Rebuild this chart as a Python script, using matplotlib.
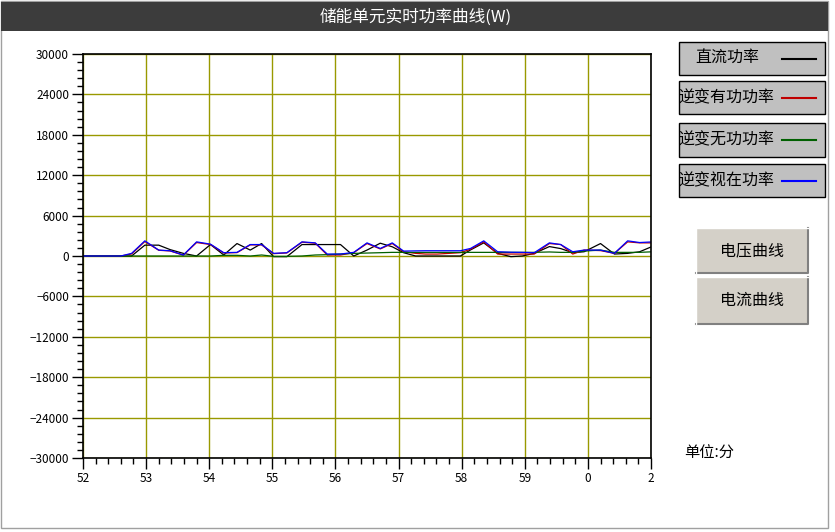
import matplotlib
matplotlib.use("Agg")
import matplotlib.pyplot as plt
from matplotlib.patches import Rectangle
from matplotlib.ticker import MultipleLocator
import numpy as np

plt.rcParams['font.family'] = ['Noto Sans CJK SC', 'DejaVu Sans']

# 时间(分), 52分开始, 60以后为下一个小时
t = [52.0, 52.6, 52.77, 52.98, 53.2, 53.38, 53.59, 53.8, 54.02, 54.23, 54.44,
     54.65, 54.83, 55.02, 55.23, 55.47, 55.68, 55.87, 56.08, 56.29, 56.5,
     56.71, 56.9, 57.08, 57.27, 57.43, 57.61, 57.8, 57.98, 58.14, 58.35,
     58.57, 58.78, 58.96, 59.15, 59.39, 59.57, 59.76, 59.94, 60.2, 60.42,
     60.63, 60.82, 61.03]

dc_power = [0, 0, 0, 1610, 1610, 950, 390, 0, 1700, 150, 1850,
            880, 1850, -100, -100, 1700, 1700, 1700, 1700, 0, 880,
            1900, 1370, 490, 0, 0, 0, 0, 0, 900, 1950,
            390, -100, 0, 390, 1400, 1100, 490, 630, 1850, 290,
            390, 630, 1460]
active_power = [0, 0, 300, 2150, 850, 750, 120, 2000, 1700, 450, 500,
                1650, 1650, 350, 450, 2050, 1900, 150, 150, 500, 1850,
                1050, 1850, 630, 390, 290, 290, 390, 490, 1000, 2100,
                290, 290, 290, 290, 1850, 1700, 290, 880, 800, 390,
                2100, 1950, 1950]
reactive_power = [0, 0, 0, 0, 0, 0, 0, 0, 0, 100, 100,
                  0, 150, -50, -50, 0, 150, 200, 290, 390, 440,
                  490, 540, 540, 540, 540, 540, 540, 540, 540, 540,
                  540, 540, 540, 540, 600, 540, 540, 730, 880, 540,
                  540, 540, 630]
apparent_power = [0, 0, 390, 2250, 880, 780, 150, 2100, 1760, 490, 540,
                  1700, 1700, 390, 490, 2100, 1950, 290, 290, 540, 1950,
                  1120, 1950, 730, 760, 780, 780, 780, 780, 1120, 2250,
                  630, 560, 540, 490, 1950, 1700, 630, 880, 880, 390,
                  2250, 2000, 2100]

series_names = ['直流功率', '逆变有功功率', '逆变无功功率', '逆变视在功率']
series_colors = ['#000000', '#c00000', '#006000', '#0000ff']
x_tick_labels = ['52', '53', '54', '55', '56', '57', '58', '59', '0', '2']

W, H = 835, 532
fig = plt.figure(figsize=(W / 100, H / 100), dpi=100)
fig.patch.set_facecolor('white')


def px_rect(x0, y0, x1, y1, **kw):
    # 像素坐标(左上原点)画矩形
    r = Rectangle((x0 / W, 1 - y1 / H), (x1 - x0) / W, (y1 - y0) / H,
                  transform=fig.transFigure, **kw)
    fig.patches.append(r)
    return r


# 外框和标题栏
px_rect(1, 1, 828, 528, facecolor='none', edgecolor='#a0a0a0', lw=1)
px_rect(1, 2, 828, 31, facecolor='#3c3c3c', edgecolor='none')
fig.text(416 / W, 1 - 17 / H, '储能单元实时功率曲线(W)', color='white',
         fontsize=12, ha='center', va='center')

ax = fig.add_axes([83 / W, 74 / H, 568 / W, 404 / H])
ax.set_xlim(52, 61)
ax.set_ylim(-30000, 30000)
ax.set_xticks(np.arange(52, 62, 1))
ax.set_xticklabels(x_tick_labels)
ax.set_yticks(np.arange(-30000, 30001, 6000))
ax.xaxis.set_minor_locator(MultipleLocator(0.2))
ax.yaxis.set_minor_locator(MultipleLocator(1200))
ax.tick_params(which='major', length=8, width=1, labelsize=8.5, pad=2)
ax.tick_params(which='minor', length=4, width=1)
ax.grid(True, which='major', color='#999900', lw=1)
for s in ax.spines.values():
    s.set_linewidth(1.2)

for vals, c in zip([dc_power, active_power, reactive_power, apparent_power],
                   series_colors):
    ax.plot(t, vals, color=c, lw=0.9)

# 图例框
legend_y = [(42, 75), (81, 114), (123, 157), (164, 197)]
for (y0, y1), name, c in zip(legend_y, series_names, series_colors):
    px_rect(679, y0, 825, y1, facecolor='#c0c0c0', edgecolor='black', lw=1)
    ym = (y0 + y1) / 2
    fig.text(727 / W if len(name) == 4 else 678 / W, 1 - ym / H, name,
             fontsize=11.5, ha='center' if len(name) == 4 else 'left',
             va='center')
    fig.lines.append(plt.Line2D([782 / W, 816 / W], [1 - ym / H, 1 - ym / H],
                                transform=fig.transFigure, color=c, lw=1.5))

# 按钮
for (y0, y1), name in zip([(228, 273), (277, 324)], ['电压曲线', '电流曲线']):
    px_rect(696, y0, 808, y1, facecolor='#d4d0c8', edgecolor='none')
    fig.lines.append(plt.Line2D([696 / W, 808 / W, 808 / W],
                                [1 - y1 / H, 1 - y1 / H, 1 - y0 / H],
                                transform=fig.transFigure, color='#808080', lw=1.5))
    fig.lines.append(plt.Line2D([696 / W, 696 / W, 808 / W],
                                [1 - y1 / H, 1 - y0 / H, 1 - y0 / H],
                                transform=fig.transFigure, color='white', lw=1))
    fig.text(752 / W, 1 - (y0 + y1) / 2 / H, name, fontsize=11.5,
             ha='center', va='center')

fig.text(684 / W, 1 - 453 / H, '单位:分', fontsize=11, ha='left', va='center')

fig.savefig('out.png', dpi=100)
